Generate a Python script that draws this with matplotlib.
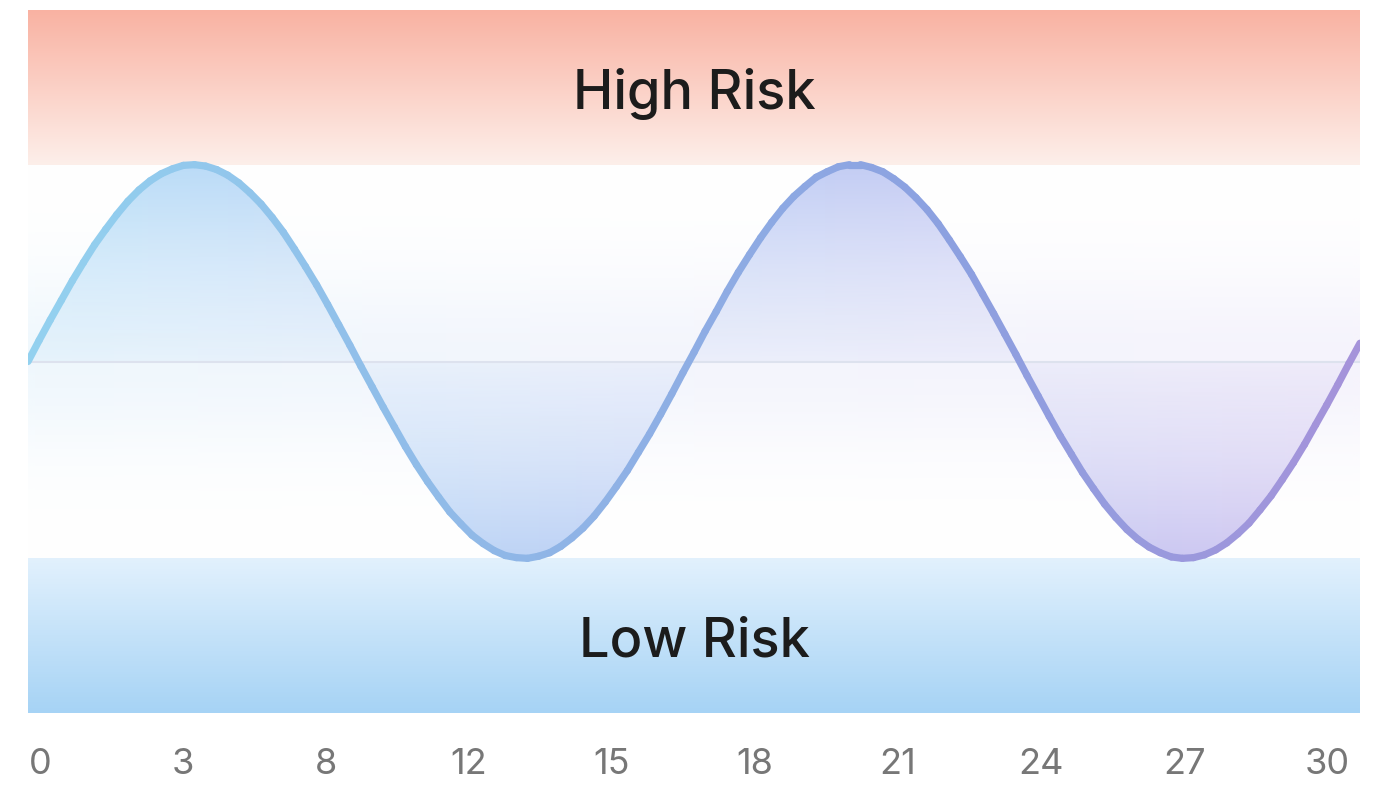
import matplotlib.pyplot as plt
import numpy as np
from matplotlib.collections import LineCollection
from matplotlib.colors import LinearSegmentedColormap, to_rgb
from matplotlib.patches import Polygon

plt.rcParams['font.family'] = ['Inter', 'DejaVu Sans']

# risk score, one reading every quarter day
days = np.arange(0, 30.25, 0.25)
risk = [50.0, 53.0, 55.9, 58.7, 61.5, 64.1, 66.6, 68.8, 70.9, 72.8,
        74.4, 75.7, 76.7, 77.4, 77.9, 78.0, 77.8, 77.3, 76.5, 75.4,
        74.0, 72.4, 70.5, 68.4, 66.0, 63.5, 60.9, 58.1, 55.2, 52.3,
        49.3, 46.4, 43.5, 40.7, 37.9, 35.3, 32.9, 30.7, 28.6, 26.9,
        25.3, 24.1, 23.1, 22.4, 22.1, 22.0, 22.3, 22.8, 23.7, 24.9,
        26.3, 28.0, 30.0, 32.2, 34.5, 37.1, 39.7, 42.5, 45.4, 48.4,
        51.3, 54.3, 57.1, 60.0, 62.7, 65.2, 67.6, 69.8, 71.8, 73.5,
        74.9, 76.2, 77.0, 77.7, 78.0, 78.0, 77.6, 77.0, 76.0, 74.8,
        73.3, 71.6, 69.6, 67.3, 64.9, 62.4, 59.6, 56.8, 53.9, 51.0,
        48.0, 45.1, 42.2, 39.4, 36.8, 34.2, 31.9, 29.7, 27.8, 26.1,
        24.7, 23.6, 22.8, 22.2, 22.0, 22.1, 22.5, 23.2, 24.2, 25.5,
        27.0, 28.9, 30.9, 33.2, 35.6, 38.2, 41.0, 43.8, 46.7, 49.7,
        52.6]
tick_labels = ["0", "3", "8", "12", "15", "18", "21", "24", "27", "30"]
midline = 50
high_zone = (78, 100)
low_zone = (0, 22)


def vertical_gradient(ax, extent, top, bottom, z):
    t = np.linspace(0, 1, 256)[:, None]
    rgb = (1 - t) * np.array(to_rgb(top)) + t * np.array(to_rgb(bottom))
    img = np.concatenate([rgb, np.ones((256, 1))], axis=1)[:, None, :]
    return ax.imshow(img, extent=extent, aspect='auto', origin='upper',
                     interpolation='bilinear', zorder=z)


def soft_layer(ax, extent, left, mid, right, alpha, z):
    # horizontal colour ramp, alpha given per row (top row first)
    cmap = LinearSegmentedColormap.from_list('h', [left, mid, right])
    cols = cmap(np.linspace(0, 1, 300))[None, :, :].repeat(len(alpha), axis=0)
    cols[:, :, 3] = alpha[:, None]
    return ax.imshow(cols, extent=extent, aspect='auto', origin='upper',
                     interpolation='bilinear', zorder=z)


fig = plt.figure(figsize=(13.78, 7.86), dpi=100)
ax = fig.add_axes([28 / 1378, 1 - 713 / 786, 1332 / 1378, 703 / 786])

# risk zones
vertical_gradient(ax, [0, 30, high_zone[0], high_zone[1]], '#f9b2a2', '#fdefea', 1)
vertical_gradient(ax, [0, 30, low_zone[0], low_zone[1]], '#e2f1fd', '#a6d3f5', 1)

# faint glow around the midline
ys = np.linspace(high_zone[0], low_zone[1], 200)
glow = 0.55 * np.exp(-((ys - midline) / 13.0) ** 2)
soft_layer(ax, [0, 30, low_zone[1], high_zone[0]], '#e3f2fc', '#ebeefb', '#eeeafa', glow, 0)

# gradient fill between curve and midline
fill_alpha = 0.15 + 0.8 * np.abs(ys - midline) / 28
fill_img = soft_layer(ax, [0, 30, low_zone[1], high_zone[0]],
                      '#b6def8', '#bccdf5', '#cfc3f0', np.clip(fill_alpha, 0, 1), 2)
poly = Polygon(list(zip(days, risk)) + [(days[-1], midline), (days[0], midline)],
               closed=True, transform=ax.transData, facecolor='none', edgecolor='none')
ax.add_patch(poly)
fill_img.set_clip_path(poly)

ax.axhline(midline, color='#dde2ee', lw=1.5, zorder=3)

# risk curve with colour ramp along x
pts = np.column_stack([days, risk]).reshape(-1, 1, 2)
segs = np.concatenate([pts[:-1], pts[1:]], axis=1)
line_cmap = LinearSegmentedColormap.from_list(
    'line', [(0, '#93d1ef'), (0.4, '#8fb4e6'), (0.7, '#8ca0e0'), (1, '#a593da')])
lc = LineCollection(segs, cmap=line_cmap, linewidth=5.2, capstyle='round',
                    joinstyle='round', zorder=4)
lc.set_array(days[:-1] / 30)
ax.add_collection(lc)

ax.text(15, 88.1, "High Risk", ha='center', va='center', fontsize=39,
        fontweight=500, color='#1c1c1c', zorder=5)
ax.text(15, 10.1, "Low Risk", ha='center', va='center', fontsize=39,
        fontweight=500, color='#1c1c1c', zorder=5)

ax.set_xlim(0, 30)
ax.set_ylim(0, 100)
ax.set_xticks(np.linspace(0.27, 29.26, len(tick_labels)), tick_labels)
ax.set_yticks([])
ax.tick_params(axis='x', length=0, pad=25, labelsize=26, labelcolor='#777777')
for s in ax.spines.values():
    s.set_visible(False)

fig.savefig('out.png', dpi=100)
